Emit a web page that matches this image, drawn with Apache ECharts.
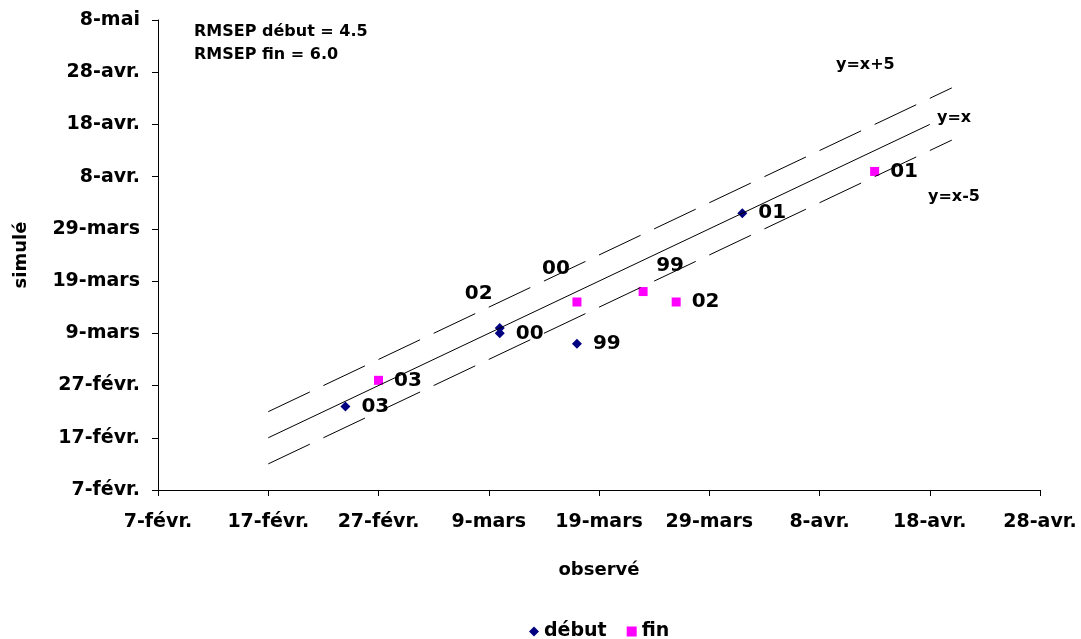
<!DOCTYPE html>
<html>
<head>
<meta charset="utf-8">
<script src="https://cdn.jsdelivr.net/npm/echarts@6/dist/echarts.min.js"></script>
<style>html,body{margin:0;padding:0;background:#fff;}#c{width:1081px;height:639px;}</style>
</head>
<body>
<div id="c"></div>
<script>
// Days counted from 7 February
const xTickLabels = ['7-févr.','17-févr.','27-févr.','9-mars','19-mars','29-mars','8-avr.','18-avr.','28-avr.'];
const yTickLabels = ['7-févr.','17-févr.','27-févr.','9-mars','19-mars','29-mars','8-avr.','18-avr.','28-avr.','8-mai'];

const debutYears = ['03','02','00','99','01'];
const debutObserved = [17,31,31,38,53];
const debutSimulated = [16,31,30,28,53];

const finYears = ['03','00','99','02','01'];
const finObserved = [20,38,44,47,65];
const finSimulated = [21,36,38,36,61];

const lineIdentity = [[10,10],[70,70]];
const linePlus5 = [[10,15],[72,77]];
const lineMinus5 = [[10,5],[72,67]];

const rmsepTexts = ['RMSEP début = 4.5','RMSEP fin = 6.0'];
const lineNames = ['y=x+5','y=x','y=x-5'];

const F = 'DejaVu Sans';

// label placement overrides (style only)
const debutLabelOffsets = {'02':{position:'top',offset:[-21,-8]}};
const finLabelOffsets = {'00':{position:'top',offset:[-21,-8]}, '99':{position:'top',offset:[27,0]}};

function buildPoints(xs, ys, names, overrides){
  return xs.map((x,i)=>{
    const item = {value:[x, ys[i]], name:names[i]};
    if (overrides[names[i]]) item.label = overrides[names[i]];
    return item;
  });
}

const chart = echarts.init(document.getElementById('c'), null, {renderer:'canvas'});
const pointLabel = {show:true, position:'right', distance:11, formatter:p=>p.name,
  color:'#000', fontFamily:F, fontWeight:'bold', fontSize:20};

chart.setOption({
  animation:false,
  backgroundColor:'#fff',
  grid:{left:158, right:41, top:20, bottom:149, containLabel:false},
  xAxis:{type:'value', min:0, max:80, interval:10,
    name:'observé', nameLocation:'middle', nameGap:71,
    nameTextStyle:{fontFamily:F, fontWeight:'bold', fontSize:18, color:'#000'},
    axisLine:{onZero:false, lineStyle:{color:'#000', width:1}},
    axisTick:{show:true, length:6, lineStyle:{color:'#000'}},
    splitLine:{show:false},
    axisLabel:{margin:23, color:'#000', fontFamily:F, fontWeight:'bold', fontSize:19,
      formatter:v=>xTickLabels[Math.round(v/10)]}},
  yAxis:{type:'value', min:0, max:90, interval:10,
    name:'simulé', nameLocation:'middle', nameGap:128, nameRotate:90,
    nameTextStyle:{fontFamily:F, fontWeight:'bold', fontSize:18, color:'#000'},
    axisLine:{show:true, onZero:false, lineStyle:{color:'#000', width:1}},
    axisTick:{show:true, length:6, lineStyle:{color:'#000'}},
    splitLine:{show:false},
    axisLabel:{margin:18, color:'#000', fontFamily:F, fontWeight:'bold', fontSize:19,
      formatter:v=>yTickLabels[Math.round(v/10)]}},
  legend:{left:524, top:617, itemWidth:10, itemHeight:10, itemGap:20,
    textStyle:{fontFamily:F, fontWeight:'bold', fontSize:19, color:'#000'},
    data:[{name:'début', icon:'diamond'},{name:'fin', icon:'rect'}]},
  graphic:[
    {type:'text', left:194, top:24, style:{text:rmsepTexts[0], font:'bold 16px "DejaVu Sans"', fill:'#000'}},
    {type:'text', left:194, top:47, style:{text:rmsepTexts[1], font:'bold 16px "DejaVu Sans"', fill:'#000'}},
    {type:'text', left:836, top:57, style:{text:lineNames[0], font:'bold 16px "DejaVu Sans"', fill:'#000'}},
    {type:'text', left:937, top:110, style:{text:lineNames[1], font:'bold 16px "DejaVu Sans"', fill:'#000'}},
    {type:'text', left:928, top:189, style:{text:lineNames[2], font:'bold 16px "DejaVu Sans"', fill:'#000'}}
  ],
  series:[
    {type:'line', data:linePlus5, symbol:'none', silent:true, lineStyle:{color:'#000', width:1, type:[46,15]}},
    {type:'line', data:lineIdentity, symbol:'none', silent:true, lineStyle:{color:'#000', width:1}},
    {type:'line', data:lineMinus5, symbol:'none', silent:true, lineStyle:{color:'#000', width:1, type:[46,15]}},
    {name:'début', type:'scatter', symbol:'diamond', symbolSize:10, itemStyle:{color:'#000080', opacity:1},
      label:pointLabel, data:buildPoints(debutObserved, debutSimulated, debutYears, debutLabelOffsets)},
    {name:'fin', type:'scatter', symbol:'rect', symbolSize:9, itemStyle:{color:'#FF00FF', opacity:1},
      label:pointLabel, data:buildPoints(finObserved, finSimulated, finYears, finLabelOffsets)}
  ]
});
</script>
</body>
</html>
